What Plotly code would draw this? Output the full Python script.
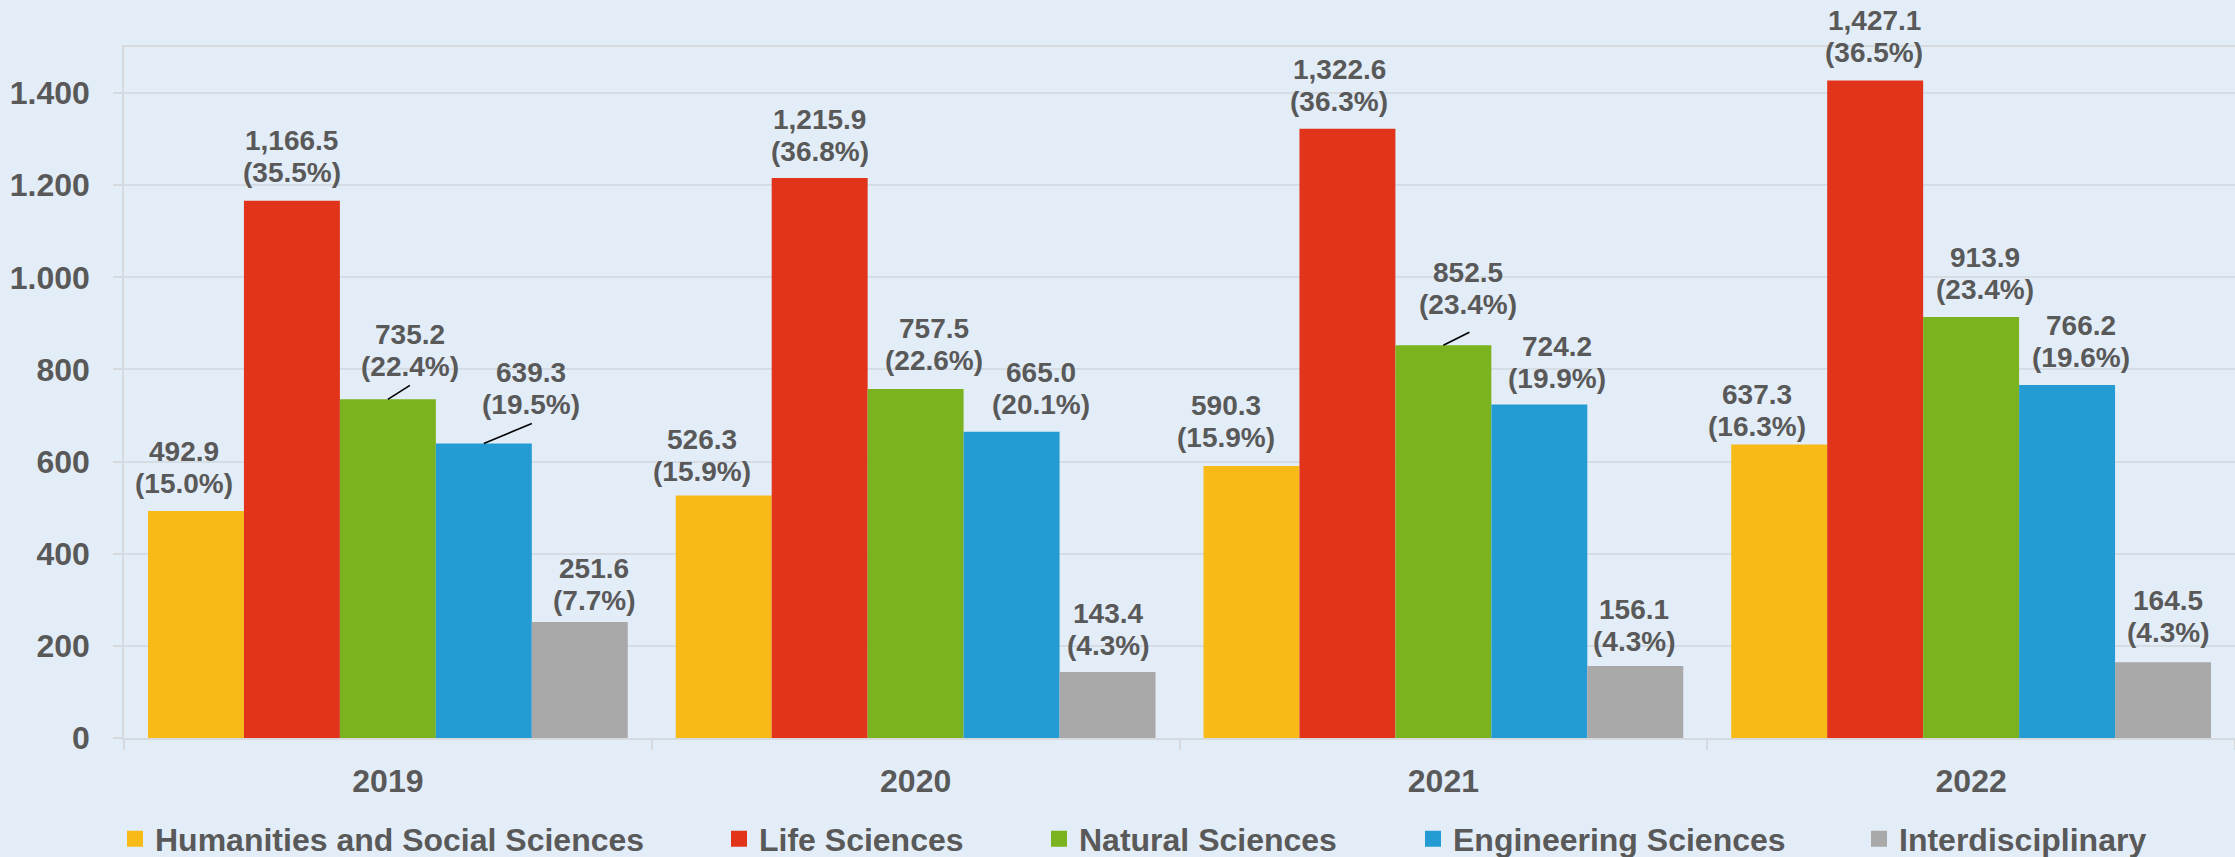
import plotly.graph_objects as go

# ---------------- data ----------------
years = ["2019", "2020", "2021", "2022"]
categories = ["Humanities and Social Sciences", "Life Sciences", "Natural Sciences",
              "Engineering Sciences", "Interdisciplinary"]
humanities = [492.9, 526.3, 590.3, 637.3]
life = [1166.5, 1215.9, 1322.6, 1427.1]
natural = [735.2, 757.5, 852.5, 913.9]
engineering = [639.3, 665.0, 724.2, 766.2]
interdisciplinary = [251.6, 143.4, 156.1, 164.5]
humanities_pct = [15.0, 15.9, 15.9, 16.3]
life_pct = [35.5, 36.8, 36.3, 36.5]
natural_pct = [22.4, 22.6, 23.4, 23.4]
engineering_pct = [19.5, 20.1, 19.9, 19.6]
interdisciplinary_pct = [7.7, 4.3, 4.3, 4.3]
y_tick_values = [0, 200, 400, 600, 800, 1000, 1200, 1400]
y_tick_labels = ["0", "200", "400", "600", "800", "1.000", "1.200", "1.400"]

series_values = [humanities, life, natural, engineering, interdisciplinary]
series_pcts = [humanities_pct, life_pct, natural_pct, engineering_pct, interdisciplinary_pct]

# ---------------- style ----------------
colors = ["#F7BA17", "#E1341B", "#7AB31F", "#259BD3", "#A9A9A9"]
BG = "#E3EDF8"
TEXT = "#595959"
GRID = "#D5DCE4"
AXIS = "#D6D9DD"
FONT = "Liberation Sans, Arial, sans-serif"
BARGAP = 0.0909
BAR_W = (1 - BARGAP) / len(categories)

# label offsets (pixels) : horizontal shift, gap from bar top to 2nd line center
label_dx = [[-12, -22, -25, -22], [0, 0, -8, -1], [22, 18, 25, 14],
            [47, 29, 18, 14], [14, 0, -1, 5]]
label_gap = [[27, 24, 29, 18], [28, 26, 27, 28], [33, 29, 41, 28],
             [39, 27, 26, 28], [22, 26, 25, 30]]
LINE_STEP = 32
# leader lines: (series, year index, dx px, dy px)
leaders = [(2, 0, 22, 14), (3, 0, 48, 20), (2, 2, 26, 13)]
# legend text start positions (pixels)
legend_text_px = [155, 759, 1079, 1453, 1899]
LEGEND_Y_PX = 839

W, H = 2235, 857
ML, MR, MT, MB = 124, 0, 47, 119
PW = W - ML - MR
PH = H - MT - MB

fig = go.Figure()
for k, (name, vals) in enumerate(zip(categories, series_values)):
    fig.add_trace(go.Bar(
        x=years, y=vals, name=name, marker=dict(color=colors[k], line=dict(width=0)),
        showlegend=False, hoverinfo="x+y"))
    lg = "legend" if k == 0 else f"legend{k + 1}"
    fig.add_trace(go.Scatter(
        x=[None], y=[None], mode="markers", name=name, legend=lg,
        marker=dict(symbol="square", size=16, color=colors[k]), showlegend=True))

annotations = []
shapes = []
for k in range(len(categories)):
    for i in range(len(years)):
        xpos = i + (k - (len(categories) - 1) / 2) * BAR_W
        v = series_values[k][i]
        p = series_pcts[k][i]
        g = label_gap[k][i]
        for text, sh in ((f"{v:,.1f}", g + LINE_STEP), (f"({p:.1f}%)", g)):
            annotations.append(dict(
                x=xpos, y=v, xref="x", yref="y", text=text, showarrow=False,
                xanchor="center", yanchor="middle", xshift=label_dx[k][i], yshift=sh,
                font=dict(family=FONT, size=28, color=TEXT, weight="bold")))

for (k, i, dx, dy) in leaders:
    xpos = i + (k - (len(categories) - 1) / 2) * BAR_W
    shapes.append(dict(
        type="line", xref="x", yref="y", xsizemode="pixel", ysizemode="pixel",
        xanchor=xpos, yanchor=series_values[k][i], x0=0, x1=dx, y0=0, y1=dy,
        line=dict(color="black", width=1.6)))

legends = {}
for k, px in enumerate(legend_text_px):
    key = "legend" if k == 0 else f"legend{k + 1}"
    legends[key] = dict(
        x=(px - 40 - ML) / PW, y=-(LEGEND_Y_PX - (H - MB)) / PH,
        xanchor="left", yanchor="middle", orientation="h",
        bgcolor="rgba(0,0,0,0)", borderwidth=0,
        font=dict(family=FONT, size=32, color=TEXT, weight="bold"))

fig.update_layout(
    width=W, height=H,
    margin=dict(l=ML, r=MR, t=MT, b=MB, pad=0, autoexpand=False),
    paper_bgcolor=BG, plot_bgcolor=BG,
    barmode="group", bargap=BARGAP, bargroupgap=0,
    font=dict(family=FONT, color=TEXT),
    annotations=annotations, shapes=shapes,
    **legends,
    xaxis=dict(
        type="category", tickson="boundaries", ticks="outside", ticklen=10,
        tickcolor=AXIS, tickwidth=1.5, showline=True, linecolor=AXIS, linewidth=2,
        mirror=True, showgrid=False, ticklabelstandoff=14, automargin=False,
        tickfont=dict(family=FONT, size=32, color=TEXT, weight="bold")),
    yaxis=dict(
        range=[0, 1500], tickvals=y_tick_values, ticktext=y_tick_labels,
        ticks="outside", ticklen=9, tickcolor=AXIS, tickwidth=1.5,
        showline=True, linecolor=AXIS, linewidth=1.5, zeroline=False, automargin=False,
        showgrid=True, gridcolor=GRID, gridwidth=1.5, ticklabelstandoff=17,
        tickfont=dict(family=FONT, size=32, color=TEXT, weight="bold")),
)

fig.write_html(
    "out.html",
    config={"displayModeBar": False},
    post_script="document.body.style.margin='0px';"
                "document.body.style.overflow='hidden';"
                "document.body.style.background='" + BG + "';")
